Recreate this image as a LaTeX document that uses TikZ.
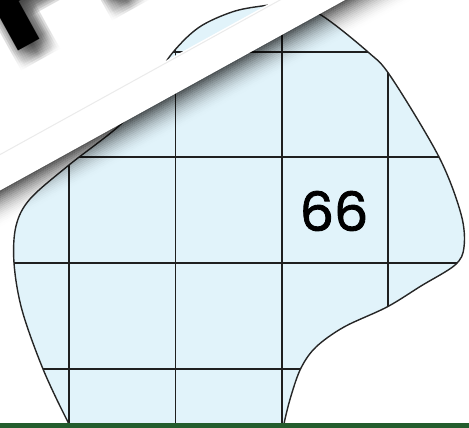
\documentclass[tikz,border=0pt]{standalone}
\usepackage{fontspec}
\newfontfamily\digitfont{Poppins}[FakeBold=1.6]
\newfontfamily\bannerfont{Liberation Sans}
\definecolor{blobfill}{HTML}{E1F3FA}
\definecolor{barGreen}{HTML}{235D2D}
\begin{document}
\begin{tikzpicture}[x=1pt,y=-1pt,
  gridline/.style={line width=1.6pt, black!88},
  outline/.style={line width=1.4pt, black!85},
  bantext/.style={font=\bannerfont\bfseries\fontsize{170}{170}\selectfont, anchor=base west, inner sep=0pt, rotate=28.9},
  numtext/.style={font=\digitfont\fontsize{54}{54}\selectfont, inner sep=0pt}]
\useasboundingbox (0,0) rectangle (469,428);
\clip (0,0) rectangle (469,428);
\def\blobpath{plot[smooth cycle, tension=0.55] coordinates {
 (86,452) (68,422) (43,369) (22,310) (14,263) (16,226) (30,199) (69,165)
 (120,125) (150,90) (170,56) (198,28) (232,12) (262,6) (290,4) (321,15)
 (368,52) (391,77) (439,157) (461,214) (464,247) (455,265) (421,286)
 (387,307) (344,327) (316,347) (301,368) (291,396) (284,424) (280,452)}}
\fill[blobfill] \blobpath;
\begin{scope}
  \clip \blobpath;
  \foreach \x in {69,175.5,282,388} \draw[gridline] (\x,-10) -- (\x,460);
  \foreach \y in {52,157,263,369} \draw[gridline] (-10,\y) -- (480,\y);
\end{scope}
\draw[outline] \blobpath;
\node[numtext] (num) at (334,211) {66};
% banner
\begin{scope}[shift={(0,190)}, rotate=28.9]
  \foreach \i in {0,...,17} {
    \pgfmathsetmacro\op{0.65*(1-\i/18)^2}
    \fill[black, opacity=\op] (-80,{\i*1.8}) rectangle (600,{\i*1.8+1.8});
  }
  \fill[white] (-80,-33) rectangle (600,0.4);
  \draw[black!8, line width=1pt] (-80,-31) -- (600,-31);
  \foreach \dx in {-10,-8,...,10} \foreach \dy in {-10,-8,...,10}
    \node[bantext, black, opacity=0.011] (sh\dx\dy) at ({75+\dx},{-104+\dy}) {FREE};
  \node[bantext] (ban) at (72,-113) {FREE};
\end{scope}
\fill[barGreen] (0,422.5) rectangle (469,428);
\end{tikzpicture}
\end{document}
